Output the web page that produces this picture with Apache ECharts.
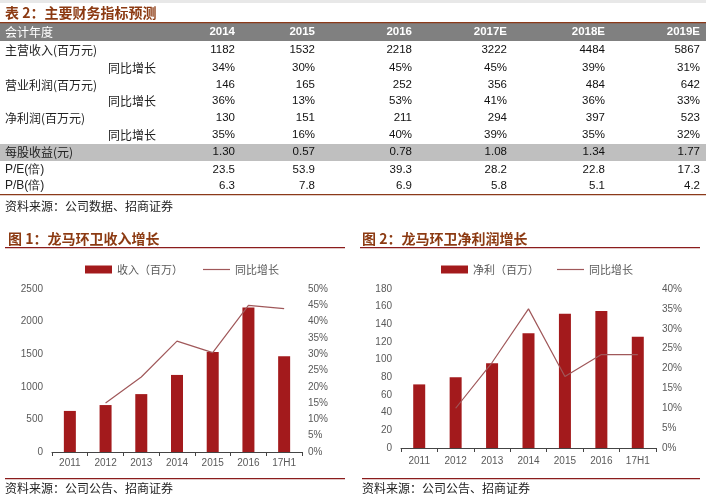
<!DOCTYPE html>
<html><head><meta charset="utf-8">
<script src="https://cdn.jsdelivr.net/npm/echarts@6/dist/echarts.min.js"></script>
<style>html,body{margin:0;padding:0;background:#fff}#c{width:706px;height:500px}</style>
</head><body><div id="c"></div>
<script>
// ---- Table data ----
var tableYears = ['2014','2015','2016','2017E','2018E','2019E'];
var rowLabels = ['主营收入(百万元)','同比增长','营业利润(百万元)','同比增长','净利润(百万元)','同比增长','每股收益(元)','P/E(倍)','P/B(倍)'];
var rowIndent = [0,1,0,1,0,1,0,0,0];
var revenueRow = ['1182','1532','2218','3222','4484','5867'];
var revenueYoY = ['34%','30%','45%','45%','39%','31%'];
var opProfitRow = ['146','165','252','356','484','642'];
var opProfitYoY = ['36%','13%','53%','41%','36%','33%'];
var netProfitRow = ['130','151','211','294','397','523'];
var netProfitYoY = ['35%','16%','40%','39%','35%','32%'];
var epsRow = ['1.30','0.57','0.78','1.08','1.34','1.77'];
var peRow = ['23.5','53.9','39.3','28.2','22.8','17.3'];
var pbRow = ['6.3','7.8','6.9','5.8','5.1','4.2'];
var tableRows = [revenueRow, revenueYoY, opProfitRow, opProfitYoY, netProfitRow, netProfitYoY, epsRow, peRow, pbRow];

// ---- Chart data ----
var categories = ['2011','2012','2013','2014','2015','2016','17H1'];
var revenue = [630, 720, 888, 1182, 1532, 2218, 1470];
var revenueGrowth = [null, 15, 23, 34, 30.5, 45, 44];
var netProfit = [72, 80, 96, 130, 152, 155, 126];
var netGrowth = [null, 10, 21.5, 35, 18, 23.5, 23.5];
var leftTicks1 = [0, 2500, 500];
var rightTicks1 = [0, 50, 5];
var leftTicks2 = [0, 180, 20];
var rightTicks2 = [0, 40, 5];

var CJK = '"Noto Sans CJK SC", "Noto Sans", sans-serif';
var NUM = '"Liberation Sans", Arial, sans-serif';
var brown = '#8c3a12';
var darkRed = '#8b1c1c';
var barColor = '#a31a1c';
var lineColor = '#a0585a';
var axisTxt = '#595959';

var colRight = [235, 315, 412, 507, 605, 700];
var rowY = [50, 68, 85, 101, 118, 135, 152, 170, 186];

var g = [];
g.push({type:'rect', shape:{x:0,y:0,width:706,height:3}, style:{fill:'#e8e8e8'}});
g.push({type:'text', x:5, y:13, style:{text:'表 2：主要财务指标预测', font:'bold 14px '+CJK, fill:brown, verticalAlign:'middle'}});
g.push({type:'rect', shape:{x:0,y:23,width:706,height:18}, style:{fill:'#808080'}});
g.push({type:'rect', shape:{x:0,y:22,width:706,height:1.2}, style:{fill:'#8b3a1a'}});
g.push({type:'rect', shape:{x:0,y:144,width:706,height:17}, style:{fill:'#bfbfbf'}});
g.push({type:'rect', shape:{x:0,y:194,width:706,height:1.2}, style:{fill:'#8b3a1a'}});
g.push({type:'text', x:5, y:32, style:{text:'会计年度', font:'12px '+CJK, fill:'#fff', verticalAlign:'middle'}});
tableYears.forEach(function(y, i){
  g.push({type:'text', x:colRight[i], y:32, style:{text:y, font:'bold 11.5px '+NUM, fill:'#fff', align:'right', verticalAlign:'middle'}});
});
rowLabels.forEach(function(l, r){
  var isAscii = /^P\//.test(l);
  g.push({type:'text', x: rowIndent[r] ? 108 : 5, y:rowY[r], style:{text:l, font:(isAscii?'12px '+NUM:'12px '+CJK), fill:'#222', verticalAlign:'middle'}});
  tableRows[r].forEach(function(v, i){
    g.push({type:'text', x:colRight[i], y:rowY[r], style:{text:v, font:'11.5px '+NUM, fill:'#111', align:'right', verticalAlign:'middle'}});
  });
});
g.push({type:'text', x:5, y:206, style:{text:'资料来源：公司数据、招商证券', font:'12px '+CJK, fill:'#222', verticalAlign:'middle'}});

// chart titles and rules
g.push({type:'text', x:8, y:239, style:{text:'图 1：龙马环卫收入增长', font:'bold 14px '+CJK, fill:brown, verticalAlign:'middle'}});
g.push({type:'rect', shape:{x:5,y:247,width:340,height:1.2}, style:{fill:darkRed}});
g.push({type:'text', x:362, y:239, style:{text:'图 2：龙马环卫净利润增长', font:'bold 14px '+CJK, fill:brown, verticalAlign:'middle'}});
g.push({type:'rect', shape:{x:360,y:247,width:340,height:1.2}, style:{fill:darkRed}});
g.push({type:'rect', shape:{x:5,y:478,width:340,height:1.2}, style:{fill:darkRed}});
g.push({type:'rect', shape:{x:362,y:478,width:338,height:1.2}, style:{fill:darkRed}});
g.push({type:'text', x:5, y:488, style:{text:'资料来源：公司公告、招商证券', font:'12px '+CJK, fill:'#222', verticalAlign:'middle'}});
g.push({type:'text', x:362, y:488, style:{text:'资料来源：公司公告、招商证券', font:'12px '+CJK, fill:'#222', verticalAlign:'middle'}});

function yAxisL(t, gi){
  return {type:'value', gridIndex:gi, position:'left', min:t[0], max:t[1], interval:t[2],
    axisLine:{show:false}, axisTick:{show:false}, splitLine:{show:false},
    axisLabel:{color:axisTxt, fontSize:10, fontFamily:NUM, margin:9, formatter:function(v){return String(v);}}};
}
function yAxisR(t, gi){
  return {type:'value', gridIndex:gi, position:'right', min:t[0], max:t[1], interval:t[2],
    axisLine:{show:false}, axisTick:{show:false}, splitLine:{show:false},
    axisLabel:{color:axisTxt, fontSize:10, fontFamily:NUM, margin:6, formatter:function(v){return v + '%';}}};
}
function xAxis(gi, m){
  return {type:'category', gridIndex:gi, data:categories, boundaryGap:true,
    axisLine:{lineStyle:{color:'#444', width:1}}, axisTick:{show:true, length:4, lineStyle:{color:'#444'}},
    axisLabel:{color:axisTxt, fontSize:10, fontFamily:NUM, margin:m}};
}
var lineIcon = 'path://M0,0 L27,0 L27,1.2 L0,1.2 Z';

var option = {
  animation:false,
  backgroundColor:'#fff',
  graphic:g,
  legend:[
    {left:80, top:259, itemWidth:27, itemHeight:8, itemGap:20, textStyle:{color:axisTxt, fontSize:11, fontFamily:CJK},
     data:[{name:'收入（百万）', icon:'rect'}, {name:'同比增长', icon:lineIcon}]},
    {left:436, top:259, itemWidth:27, itemHeight:8, itemGap:18, textStyle:{color:axisTxt, fontSize:11, fontFamily:CJK},
     data:[{name:'净利（百万）', icon:'rect'}, {name:'同比增长 ', icon:lineIcon}]}
  ],
  grid:[
    {left:52, width:250, top:289, height:163},
    {left:401, width:255, top:289, height:159}
  ],
  xAxis:[xAxis(0,6), xAxis(1,8)],
  yAxis:[yAxisL(leftTicks1,0), yAxisR(rightTicks1,0), yAxisL(leftTicks2,1), yAxisR(rightTicks2,1)],
  series:[
    {name:'收入（百万）', type:'bar', xAxisIndex:0, yAxisIndex:0, data:revenue, barWidth:12, itemStyle:{color:barColor}},
    {name:'同比增长', type:'line', xAxisIndex:0, yAxisIndex:1, data:revenueGrowth, symbol:'none', lineStyle:{color:lineColor, width:1.2}, itemStyle:{color:lineColor}},
    {name:'净利（百万）', type:'bar', xAxisIndex:1, yAxisIndex:2, data:netProfit, barWidth:12, itemStyle:{color:barColor}},
    {name:'同比增长 ', type:'line', xAxisIndex:1, yAxisIndex:3, data:netGrowth, symbol:'none', lineStyle:{color:lineColor, width:1.2}, itemStyle:{color:lineColor}}
  ]
};
var chart = echarts.init(document.getElementById('c'), null, {renderer:'canvas'});
chart.setOption(option);
</script>
</body></html>
